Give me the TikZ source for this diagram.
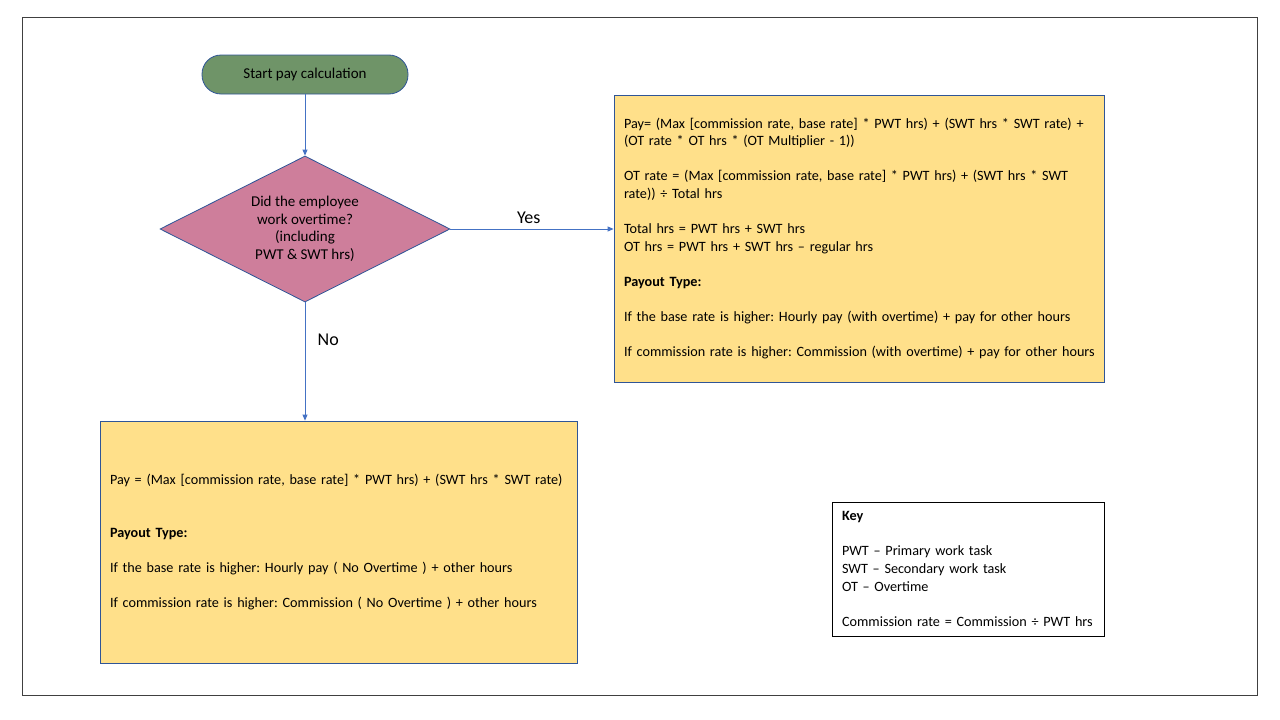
\documentclass[tikz,border=0pt]{standalone}
\usepackage{fontspec}
\setmainfont{Carlito}
\usetikzlibrary{shapes.geometric,shapes.misc,arrows.meta}
\definecolor{startgreen}{HTML}{6F9468}
\definecolor{diapink}{HTML}{CE7E9B}
\definecolor{boxyellow}{HTML}{FFE08A}
\definecolor{lineblue}{HTML}{4472C4}
\definecolor{edgeblue}{HTML}{2F5597}
\definecolor{framegray}{HTML}{404040}
\hbadness=10000 \hfuzz=50pt
\tikzset{
  txt/.style={font=\fontsize{14.2}{17.6}\selectfont\frenchspacing},
  ntxt/.style={font=\fontsize{15}{17.6}\selectfont\frenchspacing},
  bigtxt/.style={font=\fontsize{18}{20}\selectfont},
  startbox/.style={rectangle, rounded corners=19pt, draw=edgeblue, fill=startgreen, line width=0.8pt, minimum width=206pt, minimum height=39pt, ntxt, inner sep=0pt},
  decision/.style={diamond, draw=edgeblue, fill=diapink, line width=0.8pt, minimum width=290pt, minimum height=146pt, aspect=2, inner sep=0pt, ntxt, align=center},
  infobox/.style={rectangle, draw=edgeblue, fill=boxyellow, line width=0.8pt, txt, align=left, inner xsep=10pt, inner ysep=0pt},
  keybox/.style={rectangle, draw=black, fill=white, line width=0.8pt, txt, align=left, inner xsep=10pt, inner ysep=0pt},
  flow/.style={draw=lineblue, line width=0.8pt, -{Triangle[length=6pt,width=5pt]}},
}
\begin{document}
\begin{tikzpicture}[x=1pt,y=-1pt]
\useasboundingbox (0,0) rectangle (1280,720);
\draw[framegray, line width=0.8pt] (22,17) rectangle (1257,695);

\node[startbox] (start) at (305,74.5) {Start pay calculation};
\node[decision] (dec) at (305,229) {Did the employee\\work overtime?\\(including\\PWT \& SWT hrs)};

\node[infobox, text width=470pt, minimum height=287pt] (yesbox) at (859,238.5) {%
\mbox{Pay= (Max [commission rate, base rate] * PWT hrs) + (SWT hrs * SWT rate) +}\\
(OT rate * OT hrs * (OT Multiplier - 1))\\
~\\
\mbox{OT rate = (Max [commission rate, base rate] * PWT hrs) + (SWT hrs * SWT}\\
rate)) ÷ Total hrs\\
~\\
Total hrs = PWT hrs + SWT hrs\\
OT hrs = PWT hrs + SWT hrs – regular hrs\\
~\\
\textbf{Payout Type:}\\
~\\
\mbox{If the base rate is higher: Hourly pay (with overtime) + pay for other hours}\\
~\\
\mbox{If commission rate is higher: Commission (with overtime) + pay for other hours}};

\node[infobox, text width=457pt, minimum height=242pt] (nobox) at (338.5,542) {%
\mbox{Pay = (Max [commission rate, base rate] * PWT hrs) + (SWT hrs * SWT rate)}\\
~\\
~\\
\textbf{Payout Type:}\\
~\\
If the base rate is higher: Hourly pay ( No Overtime ) + other hours\\
~\\
If commission rate is higher: Commission ( No Overtime ) + other hours};

\node[keybox, text width=252pt, minimum height=134pt] (key) at (968,569) {%
\textbf{Key}\\
~\\
PWT – Primary work task\\
SWT – Secondary work task\\
OT – Overtime\\
~\\
\mbox{Commission rate = Commission ÷ PWT hrs}};

\draw[flow] (start.south) -- (dec.north);
\draw[flow] (dec.east) -- node[bigtxt, above=2pt, pos=0.48] (yes) {Yes} (dec.east -| yesbox.west);
\draw[flow] (dec.south) -- node[bigtxt, right=9pt, pos=0.32] (no) {No} (dec.south |- nobox.north);
\end{tikzpicture}
\end{document}
